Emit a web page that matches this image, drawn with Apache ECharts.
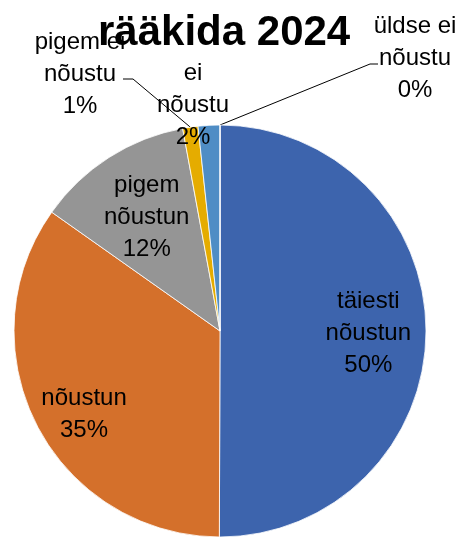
<!DOCTYPE html>
<html>
<head>
<meta charset="utf-8">
<script src="https://cdn.jsdelivr.net/npm/echarts@6/dist/echarts.min.js"></script>
<style>
  html, body {margin: 0; padding: 0; background: #fff;}
  #chart {width: 464px; height: 538px;}
</style>
</head>
<body>
<div id="chart"></div>
<script>
// data
var categories = ['täiesti nõustun', 'nõustun', 'pigem nõustun', 'pigem ei nõustu', 'ei nõustu', 'üldse ei nõustu'];
var labelTexts = ['täiesti\nnõustun', 'nõustun', 'pigem\nnõustun', 'pigem ei\nnõustu', 'ei\nnõustu', 'üldse ei\nnõustu'];
var values = [50, 34.7, 12.3, 1.2, 1.7, 0];
var colors = ['#3D64AD', '#D4702B', '#959595', '#E5AC00', '#4F8DC5', '#6BA544'];

// layout
var cx = 220, cy = 331, R = 206;
var insideRadius = [0.72, 0.77, 0.66];           // label distance, fraction of R
var insideNudge = [[0, 2], [5, 11], [0, 1]];     // small hand tweaks, px
var outsideSpots = {                               // label centres + elbow of leader line
  3: {x: 80, y: 74, line: [[123, 79], [133, 79]]},
  4: {x: 193, y: 105, line: null},
  5: {x: 415, y: 58, line: [[378, 64], [370, 64]]}
};

var total = values.reduce(function (a, b) { return a + b; }, 0);
function edgePoint(i) {
  var cum = 0;
  for (var k = 0; k < i; k++) cum += values[k];
  var theta = (cum + values[i] / 2) / total * 2 * Math.PI;
  return [cx + R * Math.sin(theta), cy - R * Math.cos(theta)];
}

var myChart = echarts.init(document.getElementById('chart'));
myChart.setOption({
  animation: false,
  title: {
    text: 'rääkida 2024',
    left: 93,
    top: 7,
    textStyle: {fontFamily: 'Liberation Sans', fontWeight: 'bold', fontSize: 42, color: '#000'}
  },
  series: [{
    type: 'pie',
    center: [cx, cy],
    radius: R,
    startAngle: 90,
    avoidLabelOverlap: false,
    itemStyle: {borderColor: '#fff', borderWidth: 0.8},
    label: {
      position: 'inside',
      fontFamily: 'Liberation Sans',
      fontSize: 24,
      lineHeight: 32,
      color: '#000',
      formatter: function (p) {
        return labelTexts[p.dataIndex] + '\n' + Math.round(p.percent) + '%';
      }
    },
    labelLine: {show: false},
    data: categories.map(function (name, i) {
      var d = {name: name, value: values[i], itemStyle: {color: colors[i]}};
      if (i >= 3) {
        d.label = {position: 'outside', lineHeight: 32};
        d.labelLine = {show: !!outsideSpots[i].line, length: 10, length2: 10, lineStyle: {color: '#000', width: 1}};
      }
      return d;
    }),
    labelLayout: function (p) {
      var i = p.dataIndex;
      if (i < 3) {
        var r = p.labelRect;
        var lx = r.x + r.width / 2 - cx, ly = r.y + r.height / 2 - cy;
        var len = Math.sqrt(lx * lx + ly * ly) || 1;
        var dist = insideRadius[i] * R;
        return {
          x: cx + lx / len * dist + insideNudge[i][0],
          y: cy + ly / len * dist + insideNudge[i][1],
          align: 'center', verticalAlign: 'middle'
        };
      }
      var s = outsideSpots[i];
      var out = {x: s.x, y: s.y, align: 'center', verticalAlign: 'middle'};
      if (s.line) out.labelLinePoints = [s.line[0], s.line[1], edgePoint(i)];
      return out;
    }
  }]
});
</script>
</body>
</html>
